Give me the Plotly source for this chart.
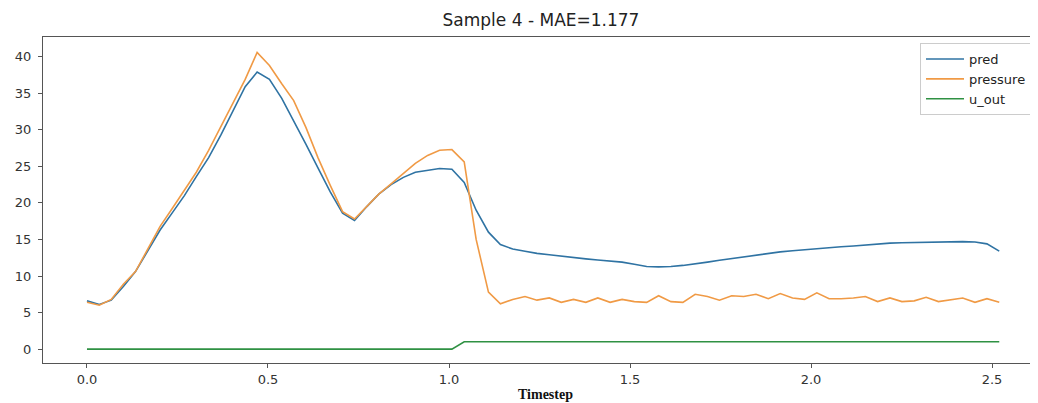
import plotly.graph_objects as go

timestep = [0.000, 0.034, 0.067, 0.101, 0.134, 0.168, 0.202, 0.235, 0.269, 0.302,
            0.336, 0.370, 0.403, 0.437, 0.470, 0.504, 0.538, 0.571, 0.605, 0.638,
            0.672, 0.706, 0.739, 0.773, 0.806, 0.840, 0.874, 0.907, 0.941, 0.974,
            1.008, 1.042, 1.075, 1.109, 1.142, 1.176, 1.210, 1.243, 1.277, 1.310,
            1.344, 1.378, 1.411, 1.445, 1.478, 1.512, 1.546, 1.579, 1.613, 1.646,
            1.680, 1.714, 1.747, 1.781, 1.814, 1.848, 1.882, 1.915, 1.949, 1.982,
            2.016, 2.050, 2.083, 2.117, 2.150, 2.184, 2.218, 2.251, 2.285, 2.318,
            2.352, 2.386, 2.419, 2.453, 2.486, 2.520]

pred = [6.6, 6.1, 6.7, 8.6, 10.6, 13.5, 16.3, 18.6, 21.0, 23.6,
        26.2, 29.3, 32.5, 35.9, 37.9, 36.9, 34.3, 31.3, 28.0, 24.8,
        21.5, 18.6, 17.6, 19.5, 21.2, 22.5, 23.5, 24.2, 24.5, 24.7,
        24.6, 22.8, 19.0, 16.0, 14.3, 13.7, 13.4, 13.1, 12.9, 12.7,
        12.5, 12.35, 12.2, 12.05, 11.9, 11.6, 11.3, 11.25, 11.3, 11.45,
        11.65, 11.9, 12.15, 12.4, 12.65, 12.9, 13.1, 13.3, 13.45, 13.6,
        13.75, 13.9, 14.0, 14.1, 14.25, 14.4, 14.5, 14.55, 14.6, 14.6,
        14.65, 14.7, 14.7, 14.65, 14.4, 13.4]

pressure = [6.4, 6.0, 6.8, 8.9, 10.6, 13.7, 16.8, 19.2, 21.7, 24.2,
            27.2, 30.5, 33.7, 36.9, 40.6, 38.8, 36.3, 34.0, 30.3, 26.2,
            22.4, 18.8, 17.8, 19.6, 21.2, 22.6, 24.0, 25.4, 26.5, 27.2,
            27.3, 25.6, 15.0, 7.8, 6.2, 6.8, 7.2, 6.7, 7.0, 6.4,
            6.8, 6.4, 7.0, 6.4, 6.8, 6.5, 6.4, 7.3, 6.5, 6.4,
            7.5, 7.2, 6.7, 7.3, 7.2, 7.5, 6.9, 7.6, 7.0, 6.8,
            7.7, 6.9, 6.9, 7.0, 7.2, 6.5, 7.0, 6.5, 6.6, 7.1,
            6.5, 6.8, 7.0, 6.4, 6.9, 6.4]

u_out = [0] * 31 + [1] * 45

series_names = ["pred", "pressure", "u_out"]
series_colors = ["#2f73a3", "#f09a45", "#2f9143"]
x_ticks = [0.0, 0.5, 1.0, 1.5, 2.0, 2.5]
y_ticks = [0, 5, 10, 15, 20, 25, 30, 35, 40]

# the page adds an 8px body margin; the figure is sized/positioned to compensate
OFF = 8
W, H = 1038 - OFF, 403 - OFF
L, T, B = 43 - OFF, 37 - OFF, 403 - 363
PW, PH = W - L, H - T - B

fig = go.Figure()
for name, vals, col in zip(series_names, [pred, pressure, u_out], series_colors):
    fig.add_trace(go.Scatter(x=timestep, y=vals, mode="lines", name=name,
                             line=dict(color=col, width=1.6)))

fig.update_layout(
    width=W, height=H,
    margin=dict(l=L, r=0, t=T, b=B, autoexpand=False),
    paper_bgcolor="white", plot_bgcolor="white",
    font=dict(family="DejaVu Sans", size=13, color="#333333"),
    title=dict(text="Sample 4 - MAE=1.177", x=(541 - OFF) / W, xref="container", xanchor="center",
               y=1 - (20 - OFF) / H, yref="container", yanchor="middle",
               font=dict(family="DejaVu Sans", size=17, color="#222222")),
    showlegend=True,
    legend=dict(x=(920 - 43) / PW, y=(363 - 43) / PH, xanchor="left", yanchor="top",
                bgcolor="rgba(255,255,255,0.9)", bordercolor="#cccccc", borderwidth=1,
                font=dict(family="DejaVu Sans", size=13, color="#222222"),
                itemwidth=38, tracegroupgap=0),
    annotations=[dict(text="<b>Timestep</b>", x=(545 - 43) / PW, y=(363 - 394) / PH,
                      xref="paper", yref="paper", xanchor="center", yanchor="middle",
                      showarrow=False,
                      font=dict(family="Liberation Serif", size=14, color="#111111"))],
)
fig.update_xaxes(range=[-0.1215, 2.627], tickvals=x_ticks, ticktext=[f"{v:.1f}" for v in x_ticks],
                 showgrid=False, zeroline=False, showline=True, linecolor="#555555", linewidth=1.2,
                 mirror=True, ticks="outside", ticklen=4, tickcolor="#555555", automargin=False)
fig.update_yaxes(range=[-1.9, 42.7], tickvals=y_ticks, showgrid=False, zeroline=False,
                 showline=True, linecolor="#555555", linewidth=1.2,
                 ticks="outside", ticklen=4, tickcolor="#555555", automargin=False,
                 ticklabelstandoff=4)

fig.write_html("out.html")
